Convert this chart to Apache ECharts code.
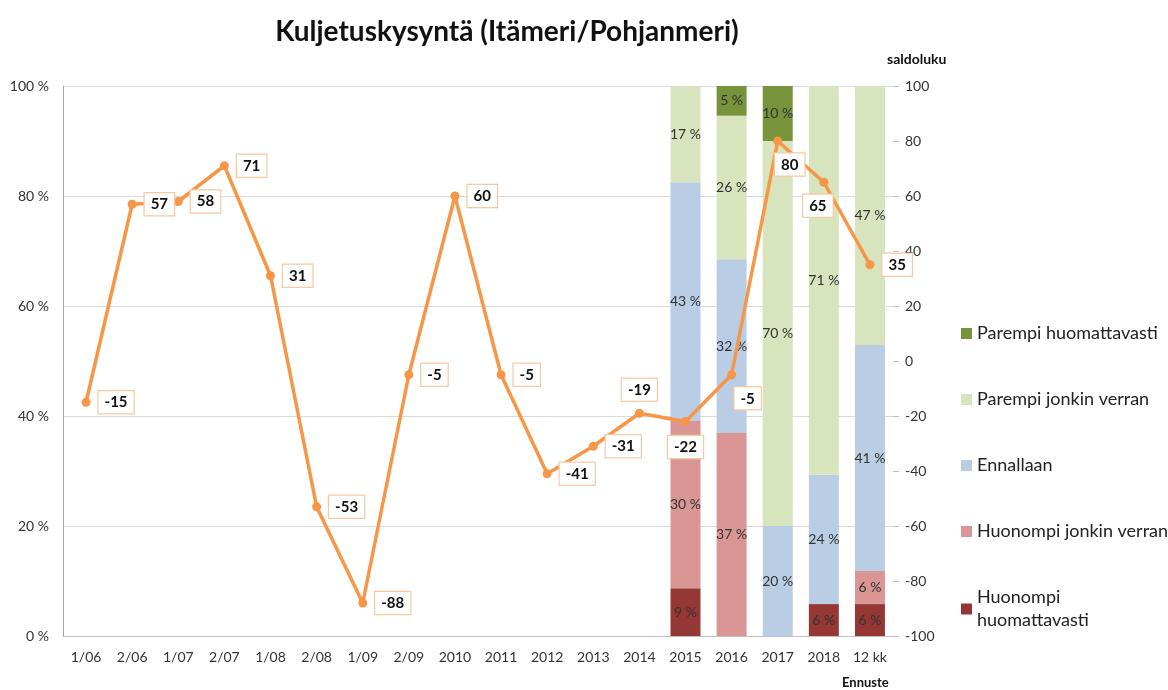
<!DOCTYPE html>
<html>
<head>
<meta charset="utf-8">
<script src="https://cdn.jsdelivr.net/npm/echarts@6/dist/echarts.min.js"></script>
<style>html,body{margin:0;padding:0;background:#fff;}#c{width:1168px;height:690px;}</style>
</head>
<body>
<div id="c"></div>
<script>
var categories = ['1/06','2/06','1/07','2/07','1/08','2/08','1/09','2/09','2010','2011','2012','2013','2014','2015','2016','2017','2018','12 kk'];
var saldoluku = [-15, 57, 58, 71, 31, -53, -88, -5, 60, -5, -41, -31, -19, -22, -5, 80, 65, 35];
var huonompiHuom   = [null,null,null,null,null,null,null,null,null,null,null,null,null, 8.7, 0, 0, 5.8, 5.8];
var huonompiJonkin = [null,null,null,null,null,null,null,null,null,null,null,null,null, 30.4, 36.9, 0, 0, 6];
var ennallaan      = [null,null,null,null,null,null,null,null,null,null,null,null,null, 43.4, 31.6, 20, 23.5, 41.1];
var parempiJonkin  = [null,null,null,null,null,null,null,null,null,null,null,null,null, 17.4, 26.1, 70, 70.7, 47.1];
var parempiHuom    = [null,null,null,null,null,null,null,null,null,null,null,null,null, 0, 5.4, 10, 0, 0];
var leftTicks = [0, 20, 40, 60, 80, 100];

var FONT = 'Lato, "Open Sans", sans-serif';
var names = ['Huonompi huomattavasti','Huonompi jonkin verran','Ennallaan','Parempi jonkin verran','Parempi huomattavasti'];
var colors = ['#953735','#D99694','#B9CDE5','#D7E4BD','#77933C'];
var barData = [huonompiHuom, huonompiJonkin, ennallaan, parempiJonkin, parempiHuom];

var series = names.map(function(n, i){
  return {
    name: n, type: 'bar', stack: 'all', yAxisIndex: 0, barWidth: '65%',
    itemStyle: {color: colors[i]},
    label: {show: true, position: 'inside', color: '#333', fontFamily: FONT, fontSize: 14,
      formatter: function(p){ return (p.value && p.value > 0.5) ? Math.round(p.value) + ' %' : ''; }},
    data: barData[i]
  };
});

var labelPos = {
  12: {position: 'top', distance: 8},
  13: {position: 'bottom', distance: 10},
  14: {position: 'bottom', offset: [16, 0], distance: 8},
  15: {position: 'bottom', offset: [12, 0], distance: 8},
  16: {position: 'bottom', offset: [-6, 0], distance: 8}
};
var lineData = saldoluku.map(function(v, i){
  var d = {value: v};
  if (labelPos[i]) d.label = labelPos[i];
  return d;
});

series.push({
  name: 'saldoluku', type: 'line', yAxisIndex: 1, z: 10,
  data: lineData,
  lineStyle: {color: '#F79646', width: 3.5},
  itemStyle: {color: '#F79646'},
  symbol: 'circle', symbolSize: 9,
  label: {show: true, position: 'right', distance: 8, color: '#111', fontWeight: 'bold', fontFamily: FONT, fontSize: 15,
    backgroundColor: '#fff', borderColor: '#FAC8A0', borderWidth: 1.2, padding: [4, 6, 3, 6]}
});

var chart = echarts.init(document.getElementById('c'));
chart.setOption({
  backgroundColor: '#fff',
  animation: false,
  title: {text: 'Kuljetuskysyntä (Itämeri/Pohjanmeri)', left: 502, textAlign: 'center', top: 13,
    textStyle: {fontFamily: FONT, fontWeight: 'bold', fontSize: 28, color: '#111'}},
  grid: {left: 63, right: 275, top: 86, bottom: 54},
  legend: {
    data: names.slice().reverse(), orient: 'vertical', left: 956, top: 317, itemGap: 43,
    itemWidth: 11, itemHeight: 11, icon: 'rect',
    textStyle: {fontFamily: FONT, fontSize: 18, color: '#222', lineHeight: 23},
    formatter: function(n){ return n === 'Huonompi huomattavasti' ? 'Huonompi\nhuomattavasti' : n; }
  },
  xAxis: {
    type: 'category', data: categories,
    axisLine: {lineStyle: {color: '#BFBFBF'}}, axisTick: {show: false},
    axisLabel: {color: '#333', fontFamily: FONT, fontSize: 14, margin: 14}
  },
  yAxis: [
    {type: 'value', min: 0, max: 100, interval: 20, position: 'left',
      axisLine: {show: true, lineStyle: {color: '#A6A6A6'}}, axisTick: {show: false},
      splitLine: {lineStyle: {color: '#D9D9D9'}},
      axisLabel: {formatter: '{value} %', color: '#333', fontFamily: FONT, fontSize: 14, margin: 14}},
    {type: 'value', min: -100, max: 100, interval: 20, position: 'right',
      axisLine: {show: false}, axisTick: {show: true, length: 6, lineStyle: {color: '#BFBFBF'}},
      splitLine: {show: false},
      axisLabel: {color: '#333', fontFamily: FONT, fontSize: 14, margin: 12}}
  ],
  graphic: [
    {type: 'text', left: 887, top: 52, style: {text: 'saldoluku', fontFamily: FONT, fontWeight: 'bold', fontSize: 14, fill: '#111'}},
    {type: 'text', left: 842, top: 676, style: {text: 'Ennuste', fontFamily: FONT, fontWeight: 'bold', fontSize: 13, fill: '#111'}}
  ],
  series: series
});
</script>
</body>
</html>
